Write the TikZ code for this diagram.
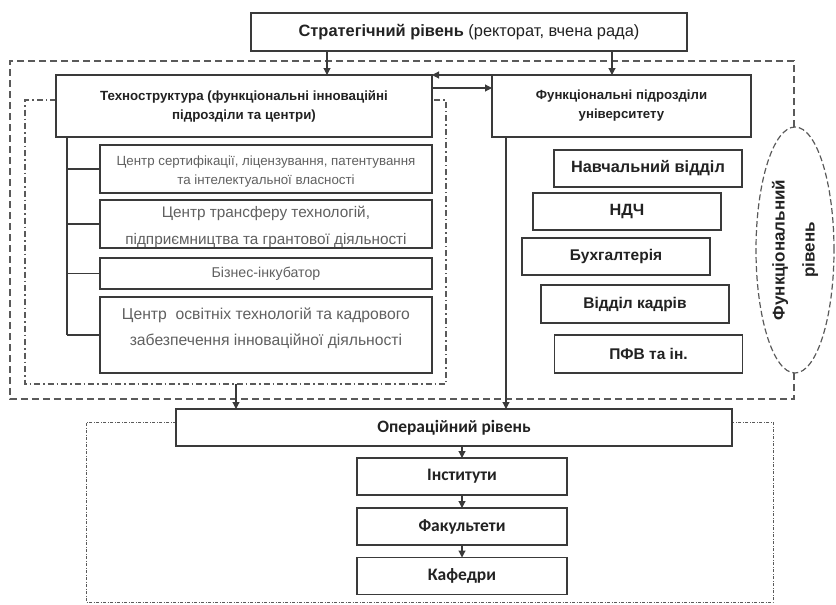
\documentclass[tikz,border=0pt]{standalone}
\usepackage{fontspec}
\setmainfont{Liberation Sans}
\newfontfamily\carl{Carlito}
\usetikzlibrary{arrows.meta,shapes.geometric}
\definecolor{ln}{HTML}{3A3A3A}
\definecolor{dl}{HTML}{5A5A5A}
\definecolor{tx}{HTML}{222222}
\definecolor{gt}{HTML}{606060}
\tikzset{
  box/.style={draw=ln, line width=1.4pt, fill=white, inner sep=0pt, outer sep=0pt, align=center, text=tx},
  subbox/.style={box, minimum width=332pt, text=gt},
  rbox/.style={box, minimum width=188pt, font=\fontsize{15.5}{18}\selectfont\bfseries},
  obox/.style={box, minimum width=210pt, minimum height=37pt, font=\carl\fontsize{17.5}{20}\selectfont\bfseries},
  arr/.style={draw=ln, line width=1.1pt, -{Triangle[length=7pt,width=7pt]}},
  con/.style={draw=ln, line width=1.1pt},
  dashbig/.style={draw=dl, line width=1.4pt, dash pattern=on 7pt off 4pt},
  dashdot/.style={draw=dl, line width=1.2pt, dash pattern=on 6pt off 3pt on 1.5pt off 3pt},
  dotframe/.style={draw=dl, line width=0.9pt, dash pattern=on 3pt off 1.5pt on 1pt off 1.5pt},
}
\begin{document}
\begin{tikzpicture}[x=1pt,y=-1pt]
\useasboundingbox (0,0) rectangle (836,605);

% frames
\draw[dashbig] (794,127) -- (794,61) -- (10,61) -- (10,399) -- (794,399) -- (794,373);
\draw[dashdot] (56,100) -- (25,100) -- (25,384) -- (446,384) -- (446,100) -- (432,100);
\draw[dotframe] (176,422) -- (86,422) -- (86,602) -- (773,602) -- (773,422) -- (732,422);

% strategic
\node[box, minimum width=436pt, minimum height=38pt, font=\fontsize{16.4}{18}\selectfont] (strat) at (469,32)
  {\textbf{Стратегічний рівень} (ректорат, вчена рада)};

% technostructure
\node[box, minimum width=376pt, minimum height=62pt, font=\fontsize{13.3}{19}\selectfont\bfseries] (tech) at (244,106)
  {Техноструктура (функціональні інноваційні\\підрозділи та центри)};
\node[box, minimum width=259pt, minimum height=62pt, font=\fontsize{13.2}{19}\selectfont\bfseries] (func) at (621.5,106)
  {Функціональні підрозділи\\університету};

% sub boxes
\node[subbox, minimum height=48pt] (s1) at (266,169) {};
\node[gt, align=center, font=\fontsize{13.3}{19}\selectfont] (s1t) at (266,172)
  {Центр сертифікації, ліцензування, патентування\\та інтелектуальної власності};
\node[subbox, minimum height=48pt] (s2) at (266,224) {};
\node[gt, align=center, font=\fontsize{15.3}{27}\selectfont] (s2t) at (266,227)
  {Центр трансферу технологій,\\підприємництва та грантової діяльності};
\node[subbox, minimum height=31pt, font=\fontsize{14.2}{16}\selectfont] (s3) at (266,273.5) {Бізнес-інкубатор};
\node[subbox, minimum height=76pt] (s4) at (266,335) {};
\node[gt, align=center, font=\fontsize{15.7}{26}\selectfont] (s4t) at (266,328)
  {Центр\ \ освітніх технологій та кадрового\\забезпечення інноваційної діяльності};

% tree
\coordinate (tx) at (67,0);
\draw[con] (tech.south -| tx) -- (tx |- s4.west);
\foreach \s in {s1,s2,s3,s4} \draw[con] (tx |- \s.west) -- (\s.west);

% right boxes
\node[rbox, minimum height=37pt, font=\fontsize{16.3}{18}\selectfont\bfseries] (n1) at (648,168.5) {Навчальний відділ};
\node[rbox, minimum height=37pt, font=\fontsize{16.3}{18}\selectfont\bfseries] (n2) at (627,211.5) {НДЧ};
\node[rbox, minimum height=37pt] (n3) at (616,256.5) {Бухгалтерія};
\node[rbox, minimum height=38pt] (n4) at (635,304) {Відділ кадрів};
\node[rbox, minimum height=38pt] (n5) at (648.5,354) {ПФВ та ін.};

% ellipse
\node[ellipse, draw=dl, line width=1.2pt, dash pattern=on 6pt off 3pt, minimum width=78pt, minimum height=246pt, inner sep=0pt] (ell) at (795,250) {};
\node[rotate=90, align=center, text=tx, font=\fontsize{17}{30}\selectfont\bfseries] at (ell.center) {Функціональний\\рівень};

% operational
\node[box, minimum width=556pt, minimum height=37pt, font=\carl\fontsize{17.4}{20}\selectfont\bfseries] (oper) at (454,427.5) {Операційний рівень};
\node[obox] (inst) at (462,476.5) {Інститути};
\node[obox] (fac) at (462,526.5) {Факультети};
\node[obox] (kaf) at (462,576) {Кафедри};

% arrows
\coordinate (xa) at (327,0);
\coordinate (xb) at (612,0);
\draw[arr] (strat.south -| xa) -- (tech.north -| xa);
\draw[arr] (strat.south -| xb) -- (func.north -| xb);
\draw[arr] (func.north west) -- (tech.north east);
\coordinate (y88) at (0,88);
\draw[arr] (tech.east |- y88) -- (func.west |- y88);
\coordinate (fx) at (506,0);
\draw[arr] (func.south -| fx) -- (oper.north -| fx);
\coordinate (dd) at (236,384);
\draw[arr] (dd) -- (oper.north -| dd);
\draw[arr] (inst.north |- oper.south) -- (inst.north);
\draw[arr] (inst.south) -- (fac.north);
\draw[arr] (fac.south) -- (kaf.north);
\end{tikzpicture}
\end{document}
